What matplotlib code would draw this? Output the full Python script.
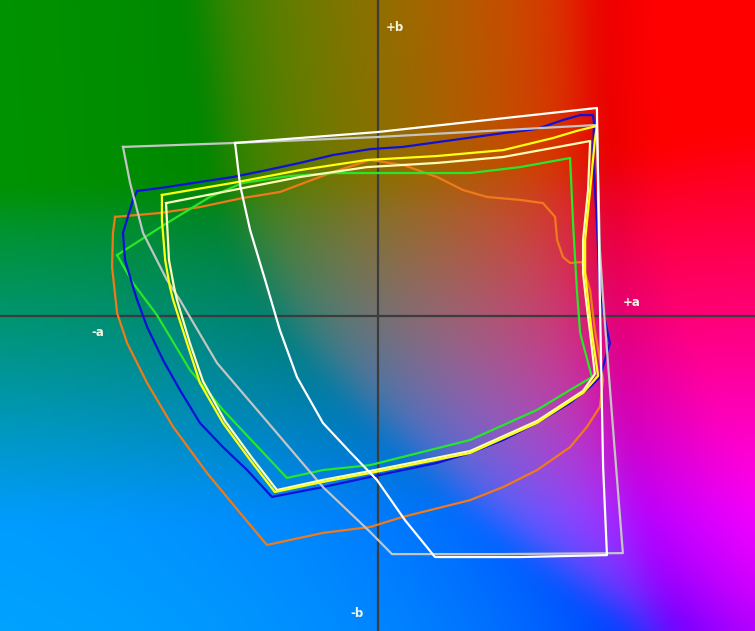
import numpy as np
import matplotlib

matplotlib.use("Agg")
import matplotlib.pyplot as plt

# gamut outlines in the a*b* plane
white_a = [-48.3, -0.2, 74.4, 75.4, 76.5, 77.8, 48.3, 19.5, 9.3, -0.2, -9.3, -18.5, -27.3, -33.1, -38.1, -43.2, -46.6]
white_b = [70.0, 74.4, 84.2, 6.3, -61.5, -97.2, -98.0, -98.0, -83.0, -66.7, -55.4, -43.6, -25.0, -5.9, 14.4, 34.7, 52.9]

gray_a = [-86.3, -48.3, -0.2, 74.4, 75.4, 76.5, 79.9, 83.2, 41.5, 4.9, -2.5, -18.5, -34.1, -54.4, -67.0, -71.4, -79.5, -83.9]
gray_b = [68.4, 70.0, 72.4, 77.3, 26.6, 6.3, -46.5, -96.4, -96.8, -96.8, -87.8, -69.6, -47.7, -19.3, 6.3, 14.4, 33.5, 53.8]

blue_a = [-81.5, -71.4, -60.2, -49.0, -37.5, -26.3, -15.1, -2.5, 8.6, 25.6, 42.6, 54.1, 62.9, 68.7, 73.1, 73.4,
          73.1, 74.4, 75.4, 77.1, 78.8, 77.8, 75.4, 72.1, 65.3, 54.1, 42.6, 31.4, 20.2, 8.6, -2.5, -18.5,
          -35.8, -44.2, -52.4, -60.2, -67.0, -72.7, -78.1, -81.5, -82.9, -85.6, -86.3, -82.9]
blue_b = [50.5, 52.1, 54.2, 56.2, 59.0, 61.9, 65.1, 67.5, 68.4, 71.2, 74.0, 75.7, 79.3, 81.3, 81.3, 78.1,
          64.3, 37.5, 10.3, -1.8, -11.2, -15.2, -25.0, -29.0, -35.5, -43.6, -50.5, -55.8, -59.8, -62.7, -65.5, -69.6,
          -73.6, -62.7, -53.4, -43.6, -30.2, -18.1, -4.7, 6.3, 11.6, 22.5, 33.5, 46.9]

yellow_a = [-73.1, -49.0, -26.3, -3.6, 20.2, 42.6, 59.5, 67.6, 74.4, 73.7, 72.1, 70.4, 70.4, 71.4, 72.7, 74.8,
            69.7, 54.1, 31.4, -2.5, -18.5, -34.8, -43.2, -52.4, -60.2, -64.6, -69.3, -70.4, -72.0, -73.1]
yellow_b = [48.9, 53.8, 59.0, 63.1, 64.7, 67.1, 72.0, 74.9, 76.9, 71.2, 50.9, 30.6, 17.2, 6.3, -7.1, -24.5,
            -31.4, -43.6, -55.8, -63.9, -67.5, -71.6, -58.6, -43.6, -27.4, -11.2, 6.3, 11.6, 22.5, 38.7]

pale_a = [-71.7, -49.0, -26.3, -3.6, 20.2, 42.6, 59.5, 72.1, 71.4, 69.7, 69.7, 70.7, 72.1, 73.7,
          69.7, 54.1, 31.4, -2.5, -18.5, -34.1, -42.5, -51.7, -59.2, -63.6, -68.0, -69.0, -70.7, -71.4]
pale_b = [45.6, 50.9, 56.2, 60.2, 61.9, 64.3, 68.0, 70.8, 50.9, 30.6, 17.2, 6.3, -7.1, -23.7,
          -30.6, -42.8, -55.0, -63.1, -66.7, -70.8, -57.8, -42.8, -26.6, -11.2, 6.3, 11.6, 22.5, 38.7]

green_a = [-88.3, -85.6, -71.4, -56.8, -45.6, -29.7, -15.1, 31.4, 48.3, 65.3, 66.3, 67.6, 68.7, 72.7,
           65.3, 54.1, 31.4, -2.5, -18.5, -30.7, -52.4, -63.6, -74.8, -82.9]
green_b = [24.5, 26.6, 37.5, 48.1, 53.8, 56.6, 57.8, 57.8, 60.2, 63.9, 37.5, 10.3, -7.1, -25.0,
           -30.2, -38.3, -50.5, -60.7, -62.7, -65.9, -38.3, -22.1, 0.2, 13.2]

orange_a = [-89.0, -73.7, -60.2, -45.6, -33.1, -15.1, -2.5, 8.6, 20.2, 29.0, 37.1, 48.3, 56.1, 60.2, 60.9,
            62.9, 65.3, 69.3, 72.1, 73.7, 75.4, 76.5, 75.4, 71.0, 65.3, 54.1, 42.6, 31.4, 8.6, -2.5,
            -18.5, -37.5, -46.6, -57.8, -69.3, -78.1, -84.9, -88.3, -90.0, -89.7]
orange_b = [40.0, 41.6, 44.0, 47.7, 50.1, 58.2, 63.1, 61.1, 56.2, 50.9, 48.1, 46.9, 45.6, 40.0, 30.6,
            23.7, 21.3, 21.7, 10.3, -5.9, -18.1, -26.2, -37.1, -45.2, -53.4, -62.7, -69.6, -74.9, -81.7, -85.8,
            -88.2, -93.1, -80.1, -63.9, -45.2, -27.4, -11.2, 1.0, 19.7, 33.5]

axis_labels = ["+b", "-b", "+a", "-a"]
label_a = [5.9, -7.0, 86.3, -94.8]
label_b = [117.0, -120.7, 5.1, -6.7]


def lab_to_rgb(L, a, b):
    fy = (L + 16.0) / 116.0
    fx = fy + a / 500.0
    fz = fy - b / 200.0

    def finv(t):
        return np.where(t > 6 / 29, t ** 3, 3 * (6 / 29) ** 2 * (t - 4 / 29))

    X = 0.9505 * finv(fx)
    Y = 1.0 * finv(fy)
    Z = 1.089 * finv(fz)
    r = 3.2406 * X - 1.5372 * Y - 0.4986 * Z
    g = -0.9689 * X + 1.8758 * Y + 0.0415 * Z
    bb = 0.0557 * X - 0.2040 * Y + 1.0570 * Z
    rgb = np.clip(np.stack([r, g, bb], axis=-1), 0, 1)
    return np.where(rgb <= 0.0031308, 12.92 * rgb, 1.055 * rgb ** (1 / 2.4) - 0.055)


def soften(img, sigma):
    # separable gaussian blur, edges padded
    r = int(3 * sigma)
    k = np.exp(-0.5 * (np.arange(-r, r + 1) / sigma) ** 2)
    k /= k.sum()
    h, w = img.shape[:2]
    pad = np.pad(img, ((r, r), (0, 0), (0, 0)), mode="edge")
    img = sum(k[i] * pad[i:i + h] for i in range(2 * r + 1))
    pad = np.pad(img, ((0, 0), (r, r), (0, 0)), mode="edge")
    return sum(k[i] * pad[:, i:i + w] for i in range(2 * r + 1))


fig = plt.figure(figsize=(7.55, 6.31), dpi=100)
ax = fig.add_axes([0, 0, 1, 1])

aa, bb = np.meshgrid(np.linspace(-128, 128, 755), np.linspace(128, -128, 631))
background = soften(lab_to_rgb(48.0, aa, bb), 14)
ax.imshow(np.clip(background, 0, 1), extent=(-128, 128, -128, 128), aspect="auto", interpolation="bilinear")

ax.axhline(0, color="#3c3c3c", lw=1.6)
ax.axvline(0, color="#3c3c3c", lw=1.6)

for xs, ys, color in [
    (orange_a, orange_b, "#f07a1a"),
    (green_a, green_b, "#28e628"),
    (blue_a, blue_b, "#1010d8"),
    (gray_a, gray_b, "#c4c4c4"),
    (pale_a, pale_b, "#fcfcb4"),
    (yellow_a, yellow_b, "#ffff10"),
    (white_a, white_b, "#ffffff"),
]:
    ax.plot(xs + xs[:1], ys + ys[:1], color=color, lw=1.6, solid_joinstyle="round")

for text, x, y in zip(axis_labels, label_a, label_b):
    ax.text(x, y, text, color="#f4f4e4", fontsize=8.5, fontweight="bold", ha="center", va="center")

ax.set_xlim(-128, 128)
ax.set_ylim(-128, 128)
ax.axis("off")

fig.savefig("out.png", dpi=100)
